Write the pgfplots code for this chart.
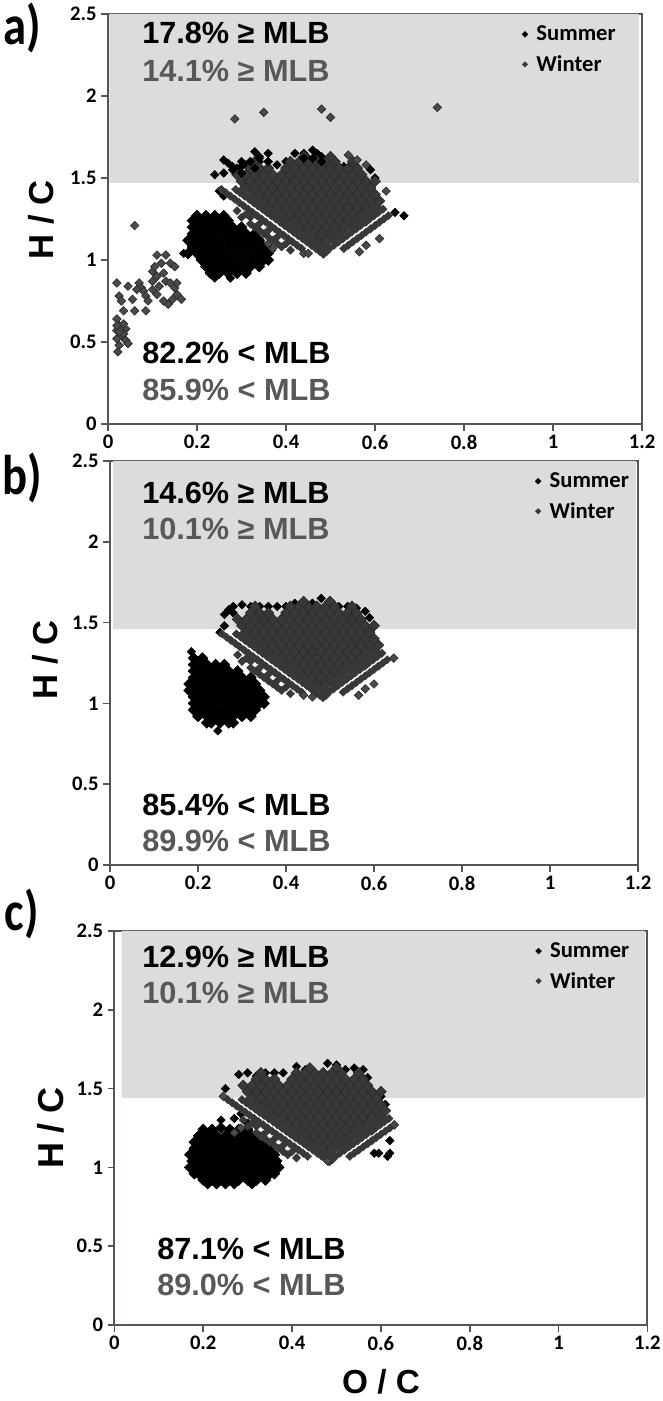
\documentclass[border=0pt]{standalone}
\usepackage{fontspec}
\setmainfont{Carlito}
\newfontfamily\arialb{Liberation Sans}
\usepackage{pgfplots}
\usepackage{pgfplotstable}
\pgfplotsset{compat=1.18}
\definecolor{shade}{RGB}{220,220,220}
\definecolor{frame}{RGB}{85,85,85}
\definecolor{wfill}{RGB}{74,74,74}
\definecolor{wedge}{RGB}{42,42,42}
\definecolor{wcore}{RGB}{56,56,56}
\definecolor{wtext}{RGB}{88,88,88}

% winter points common to all three panels: fan interior
\pgfplotstableread[row sep=\\]{
x y\\
0.48 1.08\\ 0.49 1.08\\
0.45 1.12\\ 0.47 1.12\\ 0.49 1.12\\ 0.51 1.12\\
0.44 1.16\\ 0.46 1.16\\ 0.48 1.16\\ 0.50 1.16\\ 0.52 1.16\\
0.41 1.20\\ 0.43 1.20\\ 0.45 1.20\\ 0.47 1.20\\ 0.49 1.20\\ 0.51 1.20\\ 0.53 1.20\\ 0.55 1.20\\
0.40 1.24\\ 0.42 1.24\\ 0.44 1.24\\ 0.46 1.24\\ 0.48 1.24\\ 0.50 1.24\\ 0.52 1.24\\ 0.54 1.24\\ 0.56 1.24\\ 0.58 1.24\\
0.37 1.28\\ 0.39 1.28\\ 0.41 1.28\\ 0.43 1.28\\ 0.45 1.28\\ 0.47 1.28\\ 0.49 1.28\\ 0.51 1.28\\ 0.53 1.28\\ 0.55 1.28\\ 0.57 1.28\\ 0.59 1.28\\
0.36 1.32\\ 0.38 1.32\\ 0.40 1.32\\ 0.42 1.32\\ 0.44 1.32\\ 0.46 1.32\\ 0.48 1.32\\ 0.50 1.32\\ 0.52 1.32\\ 0.54 1.32\\ 0.56 1.32\\ 0.58 1.32\\ 0.60 1.32\\
0.33 1.36\\ 0.35 1.36\\ 0.37 1.36\\ 0.39 1.36\\ 0.41 1.36\\ 0.43 1.36\\ 0.45 1.36\\ 0.47 1.36\\ 0.49 1.36\\ 0.51 1.36\\ 0.53 1.36\\ 0.55 1.36\\ 0.57 1.36\\ 0.59 1.36\\ 0.61 1.36\\
0.32 1.40\\ 0.34 1.40\\ 0.36 1.40\\ 0.38 1.40\\ 0.40 1.40\\ 0.42 1.40\\ 0.44 1.40\\ 0.46 1.40\\ 0.48 1.40\\ 0.50 1.40\\ 0.52 1.40\\ 0.54 1.40\\ 0.56 1.40\\ 0.58 1.40\\ 0.60 1.40\\
0.31 1.44\\ 0.33 1.44\\ 0.35 1.44\\ 0.37 1.44\\ 0.39 1.44\\ 0.41 1.44\\ 0.43 1.44\\ 0.45 1.44\\ 0.47 1.44\\ 0.49 1.44\\ 0.51 1.44\\ 0.53 1.44\\ 0.55 1.44\\ 0.57 1.44\\ 0.59 1.44\\
0.30 1.48\\ 0.32 1.48\\ 0.34 1.48\\ 0.36 1.48\\ 0.38 1.48\\ 0.40 1.48\\ 0.42 1.48\\ 0.44 1.48\\ 0.46 1.48\\ 0.48 1.48\\ 0.50 1.48\\ 0.52 1.48\\ 0.54 1.48\\ 0.56 1.48\\ 0.58 1.48\\ 0.60 1.48\\
0.29 1.52\\ 0.31 1.52\\ 0.33 1.52\\ 0.35 1.52\\ 0.37 1.52\\ 0.39 1.52\\ 0.41 1.52\\ 0.43 1.52\\ 0.45 1.52\\ 0.47 1.52\\ 0.49 1.52\\ 0.51 1.52\\ 0.53 1.52\\ 0.55 1.52\\ 0.57 1.52\\
0.32 1.56\\ 0.34 1.56\\ 0.36 1.56\\ 0.40 1.56\\ 0.42 1.56\\ 0.44 1.56\\ 0.46 1.56\\ 0.48 1.56\\ 0.50 1.56\\ 0.52 1.56\\ 0.54 1.56\\ 0.56 1.56\\
0.33 1.60\\ 0.41 1.60\\ 0.43 1.60\\ 0.45 1.60\\ 0.47 1.60\\ 0.49 1.60\\ 0.51 1.60\\ 0.55 1.60\\
0.44 1.63\\ 0.50 1.63\\
}\fancore

% the diagonal stripes along the lower edges of the fan
\pgfplotstableread[row sep=\\]{
x y\\
0.255 1.43\\ 0.265 1.41\\ 0.275 1.39\\ 0.285 1.37\\ 0.295 1.35\\ 0.305 1.33\\ 0.315 1.31\\ 0.325 1.29\\ 0.335 1.27\\ 0.345 1.25\\ 0.355 1.23\\ 0.365 1.21\\ 0.375 1.19\\ 0.385 1.17\\ 0.395 1.15\\ 0.405 1.13\\ 0.415 1.11\\ 0.425 1.09\\ 0.435 1.07\\
0.287 1.43\\ 0.297 1.41\\ 0.307 1.39\\ 0.317 1.37\\ 0.327 1.35\\ 0.337 1.33\\ 0.347 1.31\\ 0.357 1.29\\ 0.367 1.27\\ 0.377 1.25\\ 0.387 1.23\\ 0.397 1.21\\ 0.407 1.19\\ 0.417 1.17\\ 0.427 1.15\\ 0.437 1.13\\ 0.447 1.11\\ 0.457 1.09\\ 0.467 1.07\\ 0.477 1.05\\ 0.484 1.035\\
0.301 1.43\\ 0.311 1.41\\ 0.321 1.39\\ 0.331 1.37\\ 0.341 1.35\\ 0.351 1.33\\ 0.361 1.31\\ 0.371 1.29\\ 0.381 1.27\\ 0.391 1.25\\ 0.401 1.23\\ 0.411 1.21\\ 0.421 1.19\\ 0.431 1.17\\ 0.441 1.15\\ 0.451 1.13\\ 0.461 1.11\\ 0.471 1.09\\ 0.481 1.07\\ 0.491 1.05\\
0.498 1.07\\ 0.508 1.09\\ 0.518 1.11\\ 0.528 1.13\\ 0.538 1.15\\ 0.548 1.17\\ 0.558 1.19\\ 0.568 1.21\\ 0.578 1.23\\ 0.588 1.25\\ 0.598 1.27\\ 0.608 1.29\\ 0.618 1.31\\
0.484 1.09\\ 0.494 1.11\\ 0.504 1.13\\ 0.514 1.15\\ 0.524 1.17\\ 0.534 1.19\\ 0.544 1.21\\ 0.554 1.23\\ 0.564 1.25\\ 0.574 1.27\\ 0.584 1.29\\ 0.594 1.31\\ 0.604 1.33\\
0.530 1.07\\ 0.540 1.09\\ 0.550 1.11\\ 0.560 1.13\\ 0.570 1.15\\ 0.580 1.17\\ 0.590 1.19\\ 0.600 1.21\\ 0.610 1.23\\ 0.620 1.25\\ 0.630 1.27\\
0.29 1.30\\ 0.30 1.26\\ 0.32 1.26\\ 0.31 1.28\\ 0.32 1.22\\ 0.34 1.22\\ 0.33 1.20\\ 0.34 1.18\\ 0.36 1.18\\ 0.35 1.16\\ 0.36 1.14\\ 0.38 1.14\\ 0.37 1.12\\ 0.38 1.10\\ 0.40 1.10\\ 0.39 1.08\\ 0.41 1.06\\
}\fanedge

\pgfplotsset{
  panel/.style={
    scale only axis,
    xmin=0, xmax=1.2, ymin=0, ymax=2.5,
    xtick={0,0.2,0.4,0.6,0.8,1,1.2},
    ytick={0,0.5,1,1.5,2,2.5},
    tickpos=left,
    tick align=outside,
    major tick length=5pt,
    axis line style={frame,line width=1.5pt},
    every tick/.style={frame,line width=1.2pt},
    ticklabel style={font=\fontsize{15.5}{16}\selectfont\bfseries},
    /pgf/number format/assume math mode=true,
    legend cell align=left,
    legend style={draw=none,fill=none,inner sep=0pt,
      font=\fontsize{17}{18}\selectfont\bfseries,
      row sep=5.5pt,/tikz/column 1/.style={column sep=4.5pt}},
    legend image post style={mark size=1.5pt},
  },
  summer/.style={only marks,mark=square*,
    mark options={rotate=45,black,draw=black,fill=black},mark size=2.25pt},
  blob/.style={summer,mark size=2.9pt,forget plot},
  winter/.style={only marks,mark=square*,
    mark options={rotate=45,draw=wedge,fill=wfill,line width=0.5pt},mark size=2.25pt},
  stripe/.style={only marks,mark=square*,
    mark options={rotate=45,draw=wcore,fill=wcore,line width=0.2pt},mark size=2.25pt},
  core/.style={only marks,mark=square*,
    mark options={rotate=45,draw=wedge,fill=wcore,line width=0.4pt},mark size=2.9pt,forget plot},
}
\newcommand{\pct}[4]{\node[anchor=west,inner sep=0pt,text=#3,font=\arialb\fontsize{23}{24}\selectfont\bfseries] at (#1,#2) {#4};}
\newcommand{\axlab}[5]{\node[inner sep=0pt,rotate=#3,font=\arialb\fontsize{#4}{#4}\selectfont\bfseries] at (#1,#2) {#5};}
\newcommand{\plab}[3]{\node[inner sep=0pt,yscale=1.2,font=\fontsize{35}{36}\selectfont\bfseries] at (#1,#2) {#3};}

\begin{document}
\begin{tikzpicture}
\useasboundingbox (0,0) rectangle (496.5pt,1050.75pt);

% ---- a)
\begin{axis}[panel,at={(81pt,732.75pt)},width=400.5pt,height=307.5pt,
  legend style={at={(0.775,0.978)},anchor=north west}]
\addplot[fill=shade,draw=none,forget plot] coordinates {(0.003,1.47)(1.193,1.47)(1.193,2.5)(0.003,2.5)} \closedcycle;
\addplot[blob] coordinates {
(0.20,1.27)(0.22,1.27)(0.24,1.27)(0.26,1.27)
(0.19,1.24)(0.21,1.24)(0.23,1.24)(0.25,1.24)(0.27,1.24)
(0.19,1.20)(0.20,1.20)(0.22,1.20)(0.24,1.20)(0.26,1.20)(0.28,1.20)(0.30,1.20)
(0.19,1.16)(0.21,1.16)(0.23,1.16)(0.25,1.16)(0.27,1.16)(0.29,1.16)(0.31,1.16)(0.33,1.16)
(0.18,1.12)(0.20,1.12)(0.22,1.12)(0.24,1.12)(0.26,1.12)(0.28,1.12)(0.30,1.12)(0.32,1.12)(0.34,1.12)
(0.19,1.08)(0.21,1.08)(0.23,1.08)(0.25,1.08)(0.27,1.08)(0.29,1.08)(0.31,1.08)(0.33,1.08)(0.35,1.08)
(0.18,1.04)(0.20,1.04)(0.22,1.04)(0.24,1.04)(0.26,1.04)(0.28,1.04)(0.30,1.04)(0.32,1.04)(0.34,1.04)(0.36,1.04)(0.365,1.06)
(0.21,1.00)(0.23,1.00)(0.25,1.00)(0.27,1.00)(0.29,1.00)(0.31,1.00)(0.33,1.00)(0.35,1.00)(0.36,1.00)
(0.22,0.96)(0.24,0.96)(0.26,0.96)(0.28,0.96)(0.30,0.96)(0.32,0.96)(0.34,0.96)
(0.23,0.92)(0.25,0.92)(0.27,0.92)(0.29,0.92)(0.31,0.92)
};
\addplot[summer] coordinates {
(0.17,1.04)(0.24,0.89)(0.275,0.89)
(0.26,1.61)(0.27,1.59)(0.28,1.57)(0.24,1.52)(0.26,1.53)(0.25,1.42)(0.26,1.39)
(0.30,1.60)(0.32,1.60)(0.34,1.60)(0.36,1.60)(0.38,1.58)(0.40,1.60)(0.33,1.66)(0.36,1.65)(0.34,1.63)(0.31,1.58)(0.29,1.56)
(0.42,1.65)(0.44,1.65)(0.46,1.67)(0.47,1.65)(0.48,1.63)(0.45,1.62)(0.53,1.57)(0.59,1.55)(0.60,1.50)
(0.645,1.29)(0.665,1.27)
};
\addlegendentry{Summer}
\addplot[core] table[x=x,y=y] {\fancore};
\addplot[winter,forget plot] coordinates {(0.37,1.07)(0.36,1.10)};
\addplot[stripe] table[x=x,y=y] {\fanedge};
\addlegendentry{Winter}
\addplot[summer,forget plot] coordinates {
(0.28,1.55)(0.30,1.57)(0.32,1.60)(0.34,1.62)(0.36,1.60)(0.30,1.53)(0.33,1.56)(0.46,1.62)(0.48,1.60)(0.44,1.62)
};
\addplot[winter,forget plot] coordinates {
(0.285,1.86)(0.35,1.90)(0.48,1.92)(0.50,1.87)(0.74,1.93)(0.54,1.64)(0.56,1.61)(0.58,1.58)(0.625,1.42)(0.61,1.13)(0.58,1.09)(0.565,1.05)(0.44,1.04)(0.45,1.04)
(0.06,1.21)(0.02,0.86)(0.025,0.78)(0.03,0.75)(0.045,0.84)(0.035,0.69)(0.055,0.76)(0.06,0.69)(0.07,0.86)(0.075,0.83)(0.08,0.81)(0.085,0.78)(0.09,0.75)(0.085,0.69)(0.065,0.82)
(0.10,0.87)(0.10,0.93)(0.105,0.96)(0.11,1.03)(0.13,1.03)(0.12,0.98)(0.14,0.98)(0.15,0.96)(0.11,0.90)(0.125,0.92)(0.13,0.87)(0.115,0.84)(0.11,0.79)(0.14,0.86)(0.15,0.83)(0.155,0.86)(0.155,0.79)(0.165,0.76)(0.145,0.76)(0.135,0.73)(0.125,0.75)(0.10,0.82)
(0.02,0.64)(0.025,0.60)(0.02,0.57)(0.03,0.54)(0.02,0.52)(0.025,0.48)(0.022,0.44)(0.04,0.58)(0.035,0.55)(0.04,0.51)(0.045,0.49)(0.035,0.61)(0.02,0.60)(0.025,0.56)
};
\end{axis}

% ---- b)
\begin{axis}[panel,at={(82.5pt,402pt)},width=396pt,height=303pt,
  legend style={at={(0.805,0.978)},anchor=north west}]
\addplot[fill=shade,draw=none,forget plot] coordinates {(0.007,1.46)(1.195,1.46)(1.195,2.5)(0.007,2.5)} \closedcycle;
\addplot[blob] coordinates {
(0.19,1.28)(0.21,1.28)
(0.19,1.24)(0.20,1.24)(0.22,1.24)(0.24,1.24)(0.26,1.24)
(0.19,1.20)(0.21,1.20)(0.23,1.20)(0.25,1.20)(0.27,1.20)(0.29,1.20)
(0.19,1.16)(0.20,1.16)(0.22,1.16)(0.24,1.16)(0.26,1.16)(0.28,1.16)(0.30,1.16)(0.32,1.16)
(0.18,1.12)(0.19,1.12)(0.21,1.12)(0.23,1.12)(0.25,1.12)(0.27,1.12)(0.29,1.12)(0.31,1.12)(0.33,1.12)
(0.18,1.08)(0.20,1.08)(0.22,1.08)(0.24,1.08)(0.26,1.08)(0.28,1.08)(0.30,1.08)(0.32,1.08)(0.34,1.08)
(0.19,1.04)(0.21,1.04)(0.23,1.04)(0.25,1.04)(0.27,1.04)(0.29,1.04)(0.31,1.04)(0.33,1.04)(0.35,1.04)
(0.19,1.00)(0.20,1.00)(0.22,1.00)(0.24,1.00)(0.26,1.00)(0.28,1.00)(0.30,1.00)(0.32,1.00)(0.34,1.00)(0.35,1.00)
(0.19,0.96)(0.21,0.96)(0.23,0.96)(0.25,0.96)(0.27,0.96)(0.29,0.96)(0.31,0.96)(0.33,0.96)
(0.20,0.92)(0.22,0.92)(0.24,0.92)(0.26,0.92)(0.28,0.92)(0.30,0.92)(0.32,0.92)
(0.22,0.88)(0.23,0.88)(0.25,0.88)(0.27,0.88)(0.28,0.88)
};
\addplot[summer] coordinates {
(0.185,1.32)(0.245,0.83)
(0.26,1.55)(0.27,1.58)(0.28,1.60)(0.30,1.61)(0.32,1.60)(0.34,1.60)(0.36,1.60)(0.38,1.60)(0.40,1.60)
(0.28,1.56)(0.26,1.48)(0.25,1.44)
(0.42,1.62)(0.44,1.62)(0.46,1.62)(0.48,1.65)(0.50,1.63)(0.52,1.60)(0.54,1.60)(0.56,1.59)(0.58,1.57)(0.59,1.53)(0.60,1.48)
};
\addlegendentry{Summer}
\addplot[core] table[x=x,y=y] {\fancore};
\addplot[stripe] table[x=x,y=y] {\fanedge};
\addlegendentry{Winter}
\addplot[winter,forget plot] coordinates {(0.565,1.05)(0.58,1.09)(0.60,1.12)(0.645,1.28)(0.44,1.05)(0.46,1.04)};
\end{axis}

% ---- c)
\begin{axis}[panel,at={(85.8pt,57pt)},width=399.75pt,height=295.5pt,
  legend style={at={(0.79,0.978)},anchor=north west}]
\addplot[fill=shade,draw=none,forget plot] coordinates {(0.016,1.44)(1.195,1.44)(1.195,2.5)(0.016,2.5)} \closedcycle;
\addplot[blob] coordinates {
(0.20,1.24)(0.22,1.24)(0.24,1.25)(0.26,1.24)(0.28,1.24)(0.30,1.24)
(0.19,1.20)(0.21,1.20)(0.23,1.20)(0.25,1.20)(0.27,1.20)(0.29,1.20)(0.31,1.20)
(0.18,1.16)(0.20,1.16)(0.22,1.16)(0.24,1.16)(0.26,1.16)(0.28,1.16)(0.30,1.16)(0.32,1.16)(0.34,1.16)
(0.18,1.12)(0.19,1.12)(0.21,1.12)(0.23,1.12)(0.25,1.12)(0.27,1.12)(0.29,1.12)(0.31,1.12)(0.33,1.12)(0.35,1.12)
(0.17,1.08)(0.18,1.08)(0.20,1.08)(0.22,1.08)(0.24,1.08)(0.26,1.08)(0.28,1.08)(0.30,1.08)(0.32,1.08)(0.34,1.08)(0.36,1.08)
(0.175,1.04)(0.19,1.04)(0.21,1.04)(0.23,1.04)(0.25,1.04)(0.27,1.04)(0.29,1.04)(0.31,1.04)(0.33,1.04)(0.35,1.04)(0.365,1.04)
(0.17,1.00)(0.18,1.00)(0.20,1.00)(0.22,1.00)(0.24,1.00)(0.26,1.00)(0.28,1.00)(0.30,1.00)(0.32,1.00)(0.34,1.00)(0.36,1.00)(0.37,1.00)
(0.18,0.96)(0.19,0.96)(0.21,0.96)(0.23,0.96)(0.25,0.96)(0.27,0.96)(0.29,0.96)(0.31,0.96)(0.33,0.96)(0.35,0.96)(0.36,0.96)
(0.20,0.92)(0.22,0.92)(0.24,0.92)(0.26,0.92)(0.28,0.92)(0.30,0.92)(0.32,0.92)(0.34,0.92)
};
\addplot[summer] coordinates {
(0.24,1.30)(0.27,1.31)(0.30,1.28)(0.285,1.34)
(0.21,0.89)(0.23,0.89)(0.25,0.89)(0.27,0.89)(0.31,0.89)
(0.62,1.17)(0.62,1.09)(0.615,1.07)(0.585,1.09)(0.595,1.09)
(0.28,1.59)(0.30,1.60)(0.32,1.58)(0.34,1.60)(0.36,1.60)(0.38,1.60)(0.41,1.64)(0.43,1.62)(0.45,1.60)
(0.48,1.66)(0.50,1.65)(0.52,1.62)(0.54,1.63)(0.56,1.62)(0.57,1.57)(0.60,1.45)(0.61,1.40)(0.25,1.50)
};
\addlegendentry{Summer}
\addplot[core] table[x=x,y=y] {\fancore};
\addplot[stripe] table[x=x,y=y] {\fanedge};
\addlegendentry{Winter}
\addplot[winter,forget plot] coordinates {(0.245,1.45)(0.48,1.04)(0.63,1.27)(0.27,1.22)(0.285,1.25)};
\end{axis}

% text placed in reference pixels (y downwards)
\begin{scope}[shift={(0,1050.75pt)},x=0.75pt,y=-0.75pt]
\plab{22}{28}{a)}
\plab{22}{478}{b)}
\plab{22}{914}{c)}
\axlab{41}{220}{90}{26}{H / C}
\axlab{45}{660}{90}{26}{H / C}
\axlab{51}{1128}{90}{27}{H / C}
\axlab{381}{1382}{0}{25}{O / C}
\pct{142}{33}{black}{17.8\% ≥ MLB}
\pct{142}{71}{wtext}{14.1\% ≥ MLB}
\pct{142}{353}{black}{82.2\% < MLB}
\pct{142}{390}{wtext}{85.9\% < MLB}
\pct{142}{493}{black}{14.6\% ≥ MLB}
\pct{142}{529}{wtext}{10.1\% ≥ MLB}
\pct{142}{805}{black}{85.4\% < MLB}
\pct{142}{841}{wtext}{89.9\% < MLB}
\pct{142}{957}{black}{12.9\% ≥ MLB}
\pct{142}{993}{wtext}{10.1\% ≥ MLB}
\pct{157}{1249}{black}{87.1\% < MLB}
\pct{157}{1285}{wtext}{89.0\% < MLB}
\end{scope}
\end{tikzpicture}
\end{document}
